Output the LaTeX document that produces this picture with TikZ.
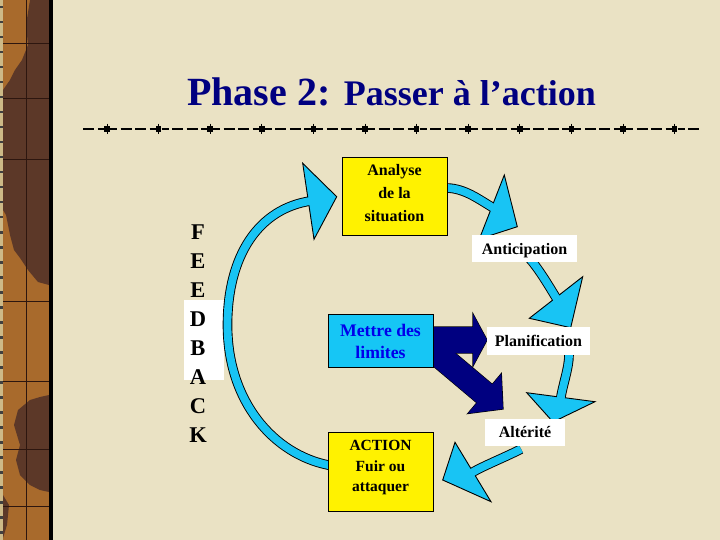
\documentclass[tikz,border=0pt]{standalone}
\usepackage{fontspec}
\setmainfont{Liberation Serif}
\definecolor{bgbeige}{RGB}{234,226,196}
\definecolor{striplight}{RGB}{205,185,135}
\definecolor{stripbrown}{RGB}{168,106,44}
\definecolor{stripdark}{RGB}{92,56,40}
\definecolor{gridbrown}{RGB}{45,22,15}
\definecolor{navytitle}{RGB}{0,0,128}
\definecolor{arrowcyan}{RGB}{24,196,244}
\definecolor{boxcyan}{RGB}{22,198,245}
\definecolor{navyarrow}{RGB}{0,0,128}
\definecolor{textblue}{RGB}{0,0,235}
\begin{document}
\begin{tikzpicture}[x=1pt,y=-1pt,
  bandout/.style={draw=black, line width=9.6pt, line join=round},
  bandin/.style={draw=arrowcyan, line width=7.8pt, line join=round},
  headst/.style={fill=arrowcyan, draw=black, line width=0.9pt, line join=miter},
  navyedge/.style={draw=black, line width=1.2pt, line join=miter},
  ybox/.style={draw=black, line width=0.8pt, fill=yellow, inner sep=0pt},
  wbox/.style={fill=white, inner sep=0pt},
  cbox/.style={draw=black, line width=0.8pt, fill=boxcyan, inner sep=0pt},
  boxtext/.style={font=\fontsize{16}{#1}\selectfont\bfseries, align=center, inner sep=0pt},
  fbletter/.style={font=\fontsize{22.5}{22.5}\selectfont\bfseries, inner sep=0pt, text height=15.2pt, text depth=0pt},
  gridline/.style={draw=gridbrown, line width=0.9pt},
]
\useasboundingbox (0,0) rectangle (720,540);
\fill[bgbeige] (0,0) rectangle (720,540);
% left binding strip
\fill[striplight] (0,0) rectangle (3,540);
\fill[stripbrown] (3,0) rectangle (49,540);
\fill[stripdark] (30,0) -- (49,0) -- (49,285) -- (38,282) -- (28,270) -- (20,258) -- (14,250) -- (10,235) -- (6,215) -- (3,210) -- (3,90) -- (10,80) -- (15,70) -- (22,60) -- (28,45) -- (26,25) -- cycle;
\fill[stripdark] (49,395) -- (40,397) -- (30,400) -- (18,410) -- (14,425) -- (20,445) -- (16,460) -- (20,475) -- (30,485) -- (40,490) -- (49,492) -- cycle;
\fill[stripdark] (3,495) -- (9,505) -- (7,525) -- (3,538) -- cycle;
\draw[gridline] (26,0) -- (26,540);
\foreach \yy in {43,98,159,301,381,449,506} \draw[gridline] (3,\yy) -- (49,\yy);
\fill[black] (49,0) rectangle (53,540);
\foreach \yy in {6,21,...,531} \fill[black!75] (0,\yy) rectangle (3,\yy+2.5);
% title
\node[anchor=base west, inner sep=0pt, text=navytitle, font=\bfseries] (title) at (187,106)
  {\fontsize{40}{40}\selectfont Phase 2: \fontsize{36}{36}\selectfont Passer à l’action};
% dashed rule with squares
\draw[line width=1.3pt, dash pattern=on 7pt off 3.5pt on 11pt off 3.5pt on 11pt off 3.5pt on 6.5pt off 5.6pt, dash phase=25pt] (83.4,129) -- (699.1,129);
\foreach \kk in {0,...,11} {
  \pgfmathsetmacro\cc{107+51.6*\kk}
  \fill (\cc-2.8,126.2) rectangle (\cc+2.8,131.8);
  \draw[line width=0.7pt] (\cc,123.6) -- (\cc,134.4);
}
% FEEDBACK
\node[wbox, minimum width=40pt, minimum height=80pt] (fbpatch) at (204,340) {};
\foreach \ll [count=\ii] in {F,E,E,D,B,A,C,K}
  \node[fbletter] (fb\ii) at (198,232+29*\ii-29) {\ll};
% cyan arrow A (feedback loop)
\draw[bandout] (345,468) -- (328,465) .. controls (274,454) and (227.5,402) .. (227.5,325) .. controls (227.5,255) and (259,208.6) .. (310.9,200.9);
\filldraw[headst] (302.7,163.3) -- (336.7,196.7) -- (314,239.3) -- cycle;
\draw[bandin] (345,468) -- (328,465) .. controls (274,454) and (227.5,402) .. (227.5,325) .. controls (227.5,255) and (259,208.6) .. (310.9,200.9);
% cyan arrow B
\draw[bandout] (438,188) -- (447,188) .. controls (465,188.5) and (479,199.5) .. (494,208.3);
\filldraw[headst] (504.3,175) -- (517.3,226.7) -- (479.3,239) -- cycle;
\draw[bandin] (438,188) -- (447,188) .. controls (465,188.5) and (479,199.5) .. (494,208.3);
% cyan arrow C
\draw[bandout] (522,249) -- (528,257) .. controls (538,267) and (550.9,289.4) .. (557.5,300);
\filldraw[headst] (582.7,276.7) -- (570.7,327.7) -- (529.3,318.3) -- cycle;
\draw[bandin] (522,249) -- (528,257) .. controls (538,267) and (550.9,289.4) .. (557.5,300);
% cyan arrow D
\draw[bandout] (569,345) -- (569,355) .. controls (569,368) and (562.5,385.6) .. (560.5,399.5);
\filldraw[headst] (526.7,392.7) -- (553,422) -- (595,401.7) -- cycle;
\draw[bandin] (569,345) -- (569,355) .. controls (569,368) and (562.5,385.6) .. (560.5,399.5);
% cyan arrow E
\draw[bandout] (521,449) .. controls (508,456) and (481,466.8) .. (470.9,473.3);
\filldraw[headst] (455,442.3) -- (442.7,480) -- (491,501.7) -- cycle;
\draw[bandin] (521,449) .. controls (508,456) and (481,466.8) .. (470.9,473.3);
% navy block arrows
\draw[navyedge] (420,327) -- (473,327) -- (473,314) -- (487,340) -- (473,366) -- (473,353) -- (420,353) -- cycle;
\draw[navyedge] (407.3,344.2) -- (476.9,402.8) -- (467.9,413.5) -- (503,409) -- (501.3,373.7) -- (492.3,384.4) -- (422.7,325.8) -- cycle;
\fill[navyarrow] (420,327) -- (473,327) -- (473,314) -- (487,340) -- (473,366) -- (473,353) -- (420,353) -- cycle;
\fill[navyarrow] (407.3,344.2) -- (476.9,402.8) -- (467.9,413.5) -- (503,409) -- (501.3,373.7) -- (492.3,384.4) -- (422.7,325.8) -- cycle;
% boxes
\node[ybox, minimum width=105pt, minimum height=78pt,
  label={[boxtext=22.8, yshift=2.7pt]center:{Analyse\\de la\\situation}}] (analyse) at (394.5,196) {};
\node[wbox, minimum width=105pt, minimum height=27pt,
  label={[boxtext=20, yshift=-2pt]center:{Anticipation}}] (antic) at (524.5,248.5) {};
\node[cbox, minimum width=105pt, minimum height=53pt,
  label={[font=\fontsize{17.7}{21.7}\selectfont\bfseries, align=center, inner sep=0pt, text=textblue, yshift=-0.7pt]center:{Mettre des\\limites}}] (limites) at (380.5,340.5) {};
\node[wbox, minimum width=103pt, minimum height=28pt,
  label={[boxtext=20]center:{Planification}}] (planif) at (538.5,341) {};
\node[wbox, minimum width=80pt, minimum height=27pt,
  label={[boxtext=20]center:{Altérité}}] (alterite) at (525,432.5) {};
\node[ybox, minimum width=105pt, minimum height=79pt,
  label={[font=\fontsize{15.5}{20.5}\selectfont\bfseries, align=center, inner sep=0pt, yshift=3.6pt]center:{ACTION\\Fuir ou\\attaquer}}] (action) at (380.5,471.5) {};
\end{tikzpicture}
\end{document}
